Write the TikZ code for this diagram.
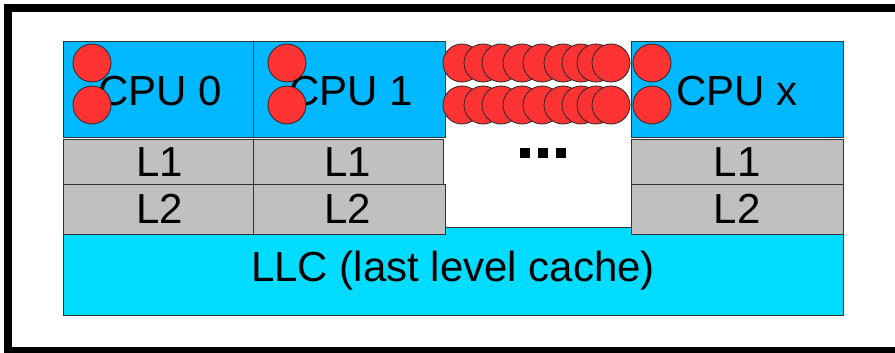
\documentclass[tikz,border=0pt]{standalone}
\usepackage{fontspec}
\setmainfont{Liberation Sans}
\begin{document}
\begin{tikzpicture}[x=1pt,y=-1pt,
  box/.style={draw=black!80,line width=0.9pt},
  cpubox/.style={box,fill=cpublue},
  cachebox/.style={box,fill=cachegray},
  core/.style={circle,draw=black!85,line width=0.8pt,fill=corered,minimum size=38pt,inner sep=0pt},
  lbl/.style={font=\fontsize{42}{42}\selectfont,text=black},
  dotsq/.style={fill=black,minimum size=10pt,inner sep=0pt}]
\definecolor{cpublue}{RGB}{0,184,255}
\definecolor{llccyan}{RGB}{0,220,255}
\definecolor{cachegray}{RGB}{192,192,192}
\definecolor{corered}{RGB}{255,51,51}
\useasboundingbox (0,0) rectangle (895,353);
\fill[white] (0,0) rectangle (895,353);
\draw[line width=8pt] (8,8) rectangle (905,351);
% LLC
\draw[box,fill=llccyan] (63,227) rectangle (843,315);
\node[lbl] (llc) at (453,271) {LLC (last level cache)};
% L2 row
\draw[cachebox] (63,184) rectangle (253,234);
\draw[cachebox] (253,184) rectangle (445,234);
\draw[cachebox] (631,184) rectangle (843,234);
% L1 row
\draw[cachebox] (63,139) rectangle (253,184);
\draw[cachebox] (253,139) rectangle (443,184);
\draw[cachebox] (631,139) rectangle (843,184);
\node[lbl] (l1a) at (160,162) {L1};
\node[lbl] (l1b) at (348,162) {L1};
\node[lbl] (l1x) at (737,162) {L1};
\node[lbl] (l2a) at (160,209) {L2};
\node[lbl] (l2b) at (348,209) {L2};
\node[lbl] (l2x) at (737,209) {L2};
% CPU boxes
\draw[cpubox] (63,41) rectangle (253,137);
\draw[cpubox] (253,41) rectangle (445,137);
\draw[cpubox] (631,41) rectangle (843,137);
\node[lbl] (cpu0) at (160,91) {CPU 0};
\node[lbl] (cpu1) at (351,91) {CPU 1};
\node[lbl] (cpux) at (737,91) {CPU x};
% cores
\node[core] (c0a) at (92,63) {};
\node[core] (c0b) at (92,105) {};
\node[core] (c1a) at (287,63) {};
\node[core] (c1b) at (287,105) {};
\node[core] (cxa) at (652,63) {};
\node[core] (cxb) at (652,105) {};
\foreach \i/\xx in {1/462,2/483,3/501,4/522,5/542,6/563,7/581,8/596,9/611}{
  \node[core] (m\i a) at (\xx,63) {};
  \node[core] (m\i b) at (\xx,105) {};
}
% dots
\node[dotsq] (d1) at (525,153) {};
\node[dotsq] (d2) at (543,153) {};
\node[dotsq] (d3) at (561,153) {};
\end{tikzpicture}
\end{document}
